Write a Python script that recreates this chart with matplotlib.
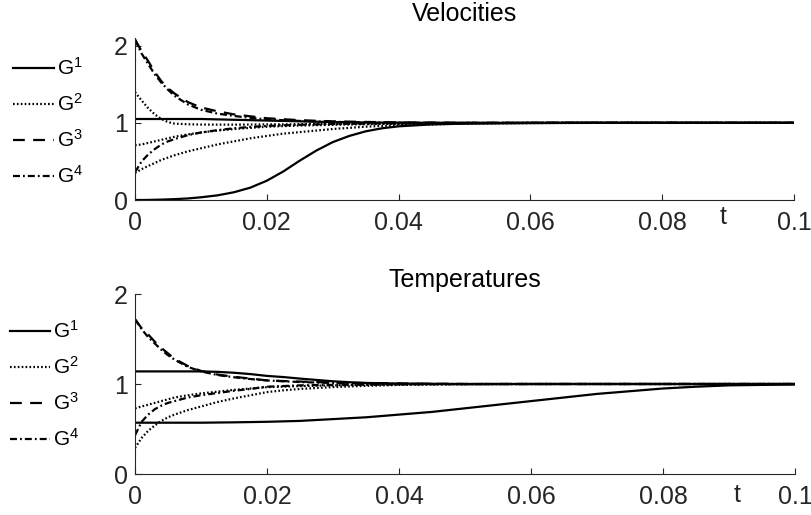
import matplotlib
matplotlib.use("Agg")
import matplotlib.pyplot as plt
from matplotlib.lines import Line2D

plt.rcParams['font.family'] = ['Liberation Sans', 'DejaVu Sans']
plt.rcParams['mathtext.fontset'] = 'custom'
plt.rcParams['mathtext.rm'] = 'Liberation Sans'
plt.rcParams['mathtext.it'] = 'Liberation Sans:italic'
plt.rcParams['mathtext.default'] = 'regular'
plt.rcParams['lines.scale_dashes'] = False

# time samples shared by all curves
t = [0, 0.001, 0.002, 0.003, 0.004, 0.005, 0.006, 0.008, 0.01,
     0.0125, 0.015, 0.0175, 0.02, 0.0225, 0.025, 0.0275, 0.03,
     0.0325, 0.035, 0.0375, 0.04, 0.045, 0.05, 0.055, 0.06,
     0.065, 0.07, 0.075, 0.08, 0.085, 0.09, 0.095, 0.1]

# ---- velocities ----
vel_G1_a = [1.05, 1.05, 1.05, 1.05, 1.05, 1.05, 1.05, 1.05, 1.05,
            1.045, 1.04, 1.035, 1.03, 1.025, 1.02, 1.015, 1.01,
            1.007, 1.005, 1.003, 1.002, 1.001, 1.0, 1.0, 1.0,
            1.0, 1.0, 1.0, 1.0, 1.0, 1.0, 1.0, 1.0]
vel_G1_b = [0.0, 0.0, 0.001, 0.003, 0.005, 0.008, 0.011, 0.02, 0.035,
            0.06, 0.10, 0.16, 0.25, 0.37, 0.51, 0.64, 0.75,
            0.83, 0.89, 0.93, 0.955, 0.98, 0.99, 0.995, 0.998,
            1.0, 1.0, 1.0, 1.0, 1.0, 1.0, 1.0, 1.0]
vel_G2_a = [1.40, 1.29, 1.19, 1.11, 1.05, 1.01, 0.99, 0.982, 0.978,
            0.977, 0.977, 0.978, 0.98, 0.981, 0.983, 0.985, 0.986,
            0.988, 0.99, 0.991, 0.992, 0.994, 0.995, 0.997, 0.998,
            0.999, 1.0, 1.0, 1.0, 1.0, 1.0, 1.0, 1.0]
vel_G2_b = [0.71, 0.72, 0.74, 0.76, 0.78, 0.80, 0.82, 0.85, 0.875,
            0.90, 0.92, 0.935, 0.95, 0.958, 0.965, 0.97, 0.975,
            0.979, 0.982, 0.985, 0.988, 0.992, 0.995, 0.997, 0.998,
            0.999, 1.0, 1.0, 1.0, 1.0, 1.0, 1.0, 1.0]
vel_G2_c = [0.35, 0.40, 0.44, 0.48, 0.52, 0.55, 0.58, 0.63, 0.67,
            0.72, 0.76, 0.80, 0.83, 0.86, 0.88, 0.90, 0.92,
            0.935, 0.95, 0.96, 0.97, 0.98, 0.99, 0.993, 0.996,
            0.998, 1.0, 1.0, 1.0, 1.0, 1.0, 1.0, 1.0]
vel_G3 = [2.08, 1.93, 1.80, 1.66, 1.54, 1.45, 1.38, 1.27, 1.20,
          1.15, 1.11, 1.085, 1.06, 1.047, 1.035, 1.027, 1.02,
          1.016, 1.012, 1.009, 1.006, 1.003, 1.001, 1.0, 1.0,
          1.0, 1.0, 1.0, 1.0, 1.0, 1.0, 1.0, 1.0]
vel_G4_a = [2.08, 1.90, 1.76, 1.63, 1.52, 1.43, 1.35, 1.24, 1.17,
            1.12, 1.09, 1.065, 1.045, 1.034, 1.025, 1.018, 1.013,
            1.009, 1.006, 1.004, 1.003, 1.001, 1.0, 1.0, 1.0,
            1.0, 1.0, 1.0, 1.0, 1.0, 1.0, 1.0, 1.0]
vel_G4_b = [0.36, 0.50, 0.59, 0.66, 0.72, 0.76, 0.79, 0.84, 0.875,
            0.905, 0.93, 0.947, 0.96, 0.968, 0.975, 0.98, 0.985,
            0.988, 0.99, 0.993, 0.995, 0.997, 0.998, 0.999, 1.0,
            1.0, 1.0, 1.0, 1.0, 1.0, 1.0, 1.0, 1.0]

# ---- temperatures ----
tem_G1_a = [1.14, 1.14, 1.14, 1.14, 1.14, 1.14, 1.14, 1.14, 1.14,
            1.135, 1.125, 1.11, 1.09, 1.077, 1.06, 1.045, 1.03,
            1.02, 1.012, 1.008, 1.005, 1.002, 1.0, 1.0, 1.0,
            1.0, 1.0, 1.0, 1.0, 1.0, 1.0, 1.0, 1.0]
tem_G1_b = [0.57, 0.57, 0.57, 0.57, 0.57, 0.57, 0.57, 0.57, 0.57,
            0.572, 0.574, 0.577, 0.58, 0.585, 0.59, 0.60, 0.61,
            0.62, 0.63, 0.645, 0.66, 0.69, 0.73, 0.77, 0.81,
            0.85, 0.89, 0.92, 0.95, 0.97, 0.985, 0.99, 0.995]
tem_G2_a = [0.73, 0.75, 0.77, 0.79, 0.81, 0.83, 0.85, 0.875, 0.895,
            0.915, 0.935, 0.95, 0.965, 0.971, 0.977, 0.981, 0.985,
            0.988, 0.99, 0.993, 0.995, 0.997, 0.998, 0.999, 1.0,
            1.0, 1.0, 1.0, 1.0, 1.0, 1.0, 1.0, 1.0]
tem_G2_b = [0.29, 0.40, 0.48, 0.54, 0.59, 0.63, 0.66, 0.71, 0.75,
            0.80, 0.84, 0.875, 0.91, 0.93, 0.945, 0.956, 0.965,
            0.973, 0.98, 0.985, 0.99, 0.994, 0.997, 0.998, 0.999,
            1.0, 1.0, 1.0, 1.0, 1.0, 1.0, 1.0, 1.0]
tem_G3 = [1.72, 1.62, 1.55, 1.47, 1.40, 1.34, 1.28, 1.20, 1.145,
          1.105, 1.08, 1.06, 1.04, 1.033, 1.027, 1.021, 1.016,
          1.013, 1.01, 1.007, 1.005, 1.002, 1.0, 1.0, 1.0,
          1.0, 1.0, 1.0, 1.0, 1.0, 1.0, 1.0, 1.0]
tem_G4_a = [1.72, 1.61, 1.52, 1.45, 1.38, 1.32, 1.27, 1.19, 1.14,
            1.10, 1.075, 1.055, 1.04, 1.03, 1.022, 1.016, 1.012,
            1.009, 1.006, 1.004, 1.003, 1.001, 1.0, 1.0, 1.0,
            1.0, 1.0, 1.0, 1.0, 1.0, 1.0, 1.0, 1.0]
tem_G4_b = [0.43, 0.58, 0.66, 0.72, 0.76, 0.79, 0.81, 0.85, 0.875,
            0.90, 0.925, 0.945, 0.97, 0.977, 0.985, 0.988, 0.99,
            0.992, 0.994, 0.995, 0.996, 0.998, 0.999, 1.0, 1.0,
            1.0, 1.0, 1.0, 1.0, 1.0, 1.0, 1.0, 1.0]

legend_labels = [r'G$^1$', r'G$^2$', r'G$^3$', r'G$^4$']
x_ticks = [0, 0.02, 0.04, 0.06, 0.08, 0.1]
x_ticklabels = ['0', '0.02', '0.04', '0.06', '0.08', '0.1']

LW = 1.6
STYLES = {
    1: '-',
    2: (0, (1.2, 1.6)),
    3: (0, (8.5, 6.0)),
    4: (0, (5.0, 2.2, 1.3, 2.2)),
}
AX_COLOR = '#262626'

fig = plt.figure(figsize=(8.11, 5.15), dpi=100)
ax1 = fig.add_axes([135 / 811, 1 - 200 / 515, 659 / 811, 162 / 515])
ax2 = fig.add_axes([135 / 811, 1 - 474 / 515, 660 / 811, 180 / 515])

panels = [
    (ax1, 'Velocities', 21, (0, 2.1),
     {1: [vel_G1_a, vel_G1_b], 2: [vel_G2_a, vel_G2_b, vel_G2_c],
      3: [vel_G3], 4: [vel_G4_a, vel_G4_b]},
     (0.0892, -0.105), (0.016, 1 - 57 / 515)),
    (ax2, 'Temperatures', 287, (0, 2),
     {1: [tem_G1_a, tem_G1_b], 2: [tem_G2_a, tem_G2_b],
      3: [tem_G3], 4: [tem_G4_a, tem_G4_b]},
     (0.0912, -0.117), (0.012, 1 - 320 / 515)),
]

for ax, title, title_base_px, ylim, series, tpos, legpos in panels:
    for g, curves in series.items():
        for y in curves:
            ax.plot(t, y, color='black', lw=LW, linestyle=STYLES[g],
                    solid_capstyle='butt', dash_capstyle='butt')
    ax.set_xlim(0, 0.1)
    ax.set_ylim(*ylim)
    ax.set_xticks(x_ticks)
    ax.set_xticklabels(x_ticklabels)
    ax.set_yticks([0, 1, 2])
    for side in ('top', 'right'):
        ax.spines[side].set_visible(False)
    for side in ('left', 'bottom'):
        ax.spines[side].set_color(AX_COLOR)
        ax.spines[side].set_linewidth(0.8)
    ax.tick_params(direction='in', length=4.5, width=0.8, color=AX_COLOR,
                   labelcolor=AX_COLOR, labelsize=18)
    ax.tick_params(axis='x', pad=8)
    ax.tick_params(axis='y', pad=5)
    box = ax.get_position()
    fig.text((box.x0 + box.x1) / 2, 1 - title_base_px / 515, title,
             fontsize=18, color='black', ha='center', va='baseline')
    ax.text(tpos[0], tpos[1], 't', transform=ax.get_xaxis_transform(),
            fontsize=18, color=AX_COLOR, ha='center', va='center')
    handles = [Line2D([], [], color='black', lw=LW, linestyle=STYLES[g],
                      dash_capstyle='butt') for g in (1, 2, 3, 4)]
    fig.legend(handles, legend_labels, loc='upper left', bbox_to_anchor=legpos,
               bbox_transform=fig.transFigure, frameon=False, fontsize=15,
               handlelength=1.95, handletextpad=0.15, labelspacing=0.68,
               borderpad=0, borderaxespad=0)

fig.savefig('out.png', dpi=100)
